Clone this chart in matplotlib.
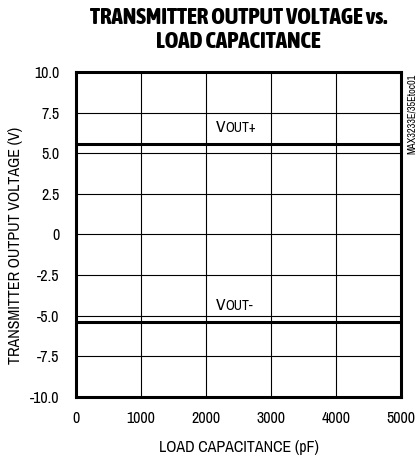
import matplotlib.pyplot as plt
from matplotlib import font_manager

# pick a narrow face if one is around, else Liberation Sans
fonts = font_manager.fontManager.ttflist
narrow = sorted({f.name for f in fonts if 'Narrow' in f.name or 'Condensed' in f.name})
base = narrow[0] if narrow else 'Liberation Sans'
bold_narrow = sorted({f.name for f in fonts
                      if f.name in narrow and isinstance(f.weight, int) and f.weight >= 700})
title_font = bold_narrow[0] if bold_narrow else base
plt.rcParams['font.family'] = [base, 'DejaVu Sans']

# data
cap = [0, 5000]
vout_pos = [5.57, 5.57]
vout_neg = [-5.37, -5.37]
xticks = [0, 1000, 2000, 3000, 4000, 5000]
yticks = [-10.0, -7.5, -5.0, -2.5, 0, 2.5, 5.0, 7.5, 10.0]
ylabels = ['-10.0', '-7.5', '-5.0', '-2.5', '0', '2.5', '5.0', '7.5', '10.0']

fig = plt.figure(figsize=(4.17, 4.58), dpi=100)
ax = fig.add_axes([0.182, 0.133, 0.78, 0.71])

ax.plot(cap, vout_pos, color='black', linewidth=2.2)
ax.plot(cap, vout_neg, color='black', linewidth=2.2)

ax.set_xlim(0, 5000)
ax.set_ylim(-10, 10)
ax.set_xticks(xticks)
ax.set_yticks(yticks)
ax.set_yticklabels(ylabels)
ax.grid(True, color='black', linewidth=0.8)
ax.tick_params(length=0, labelsize=11.5, pad=10)
ax.tick_params(axis='y', pad=12)
for s in ax.spines.values():
    s.set_linewidth(2.2)

ax.set_xlabel('LOAD CAPACITANCE (pF)', fontsize=11.5, labelpad=10)
ax.set_ylabel('TRANSMITTER OUTPUT VOLTAGE (V)', fontsize=11.5)
ax.yaxis.set_label_coords(-0.163, 0.465)
ax.set_title('TRANSMITTER OUTPUT VOLTAGE vs.\nLOAD CAPACITANCE', fontsize=16.5,
             fontweight='heavy', family=[title_font, 'DejaVu Sans'],
             pad=17, linespacing=1.12, x=0.5)

for y, sign in [(6.31, '+'), (-4.65, '-')]:
    v = ax.text(2150, y, 'V', fontsize=12.5, va='baseline', ha='left')
    ax.annotate('OUT' + sign, xy=(1, 0), xycoords=v, fontsize=10,
                va='bottom', ha='left')

fig.text(0.987, 0.84, 'MAX3233E/35Etoc01', rotation=90, fontsize=7.4,
         ha='center', va='top')

fig.savefig('out.png', dpi=100)
